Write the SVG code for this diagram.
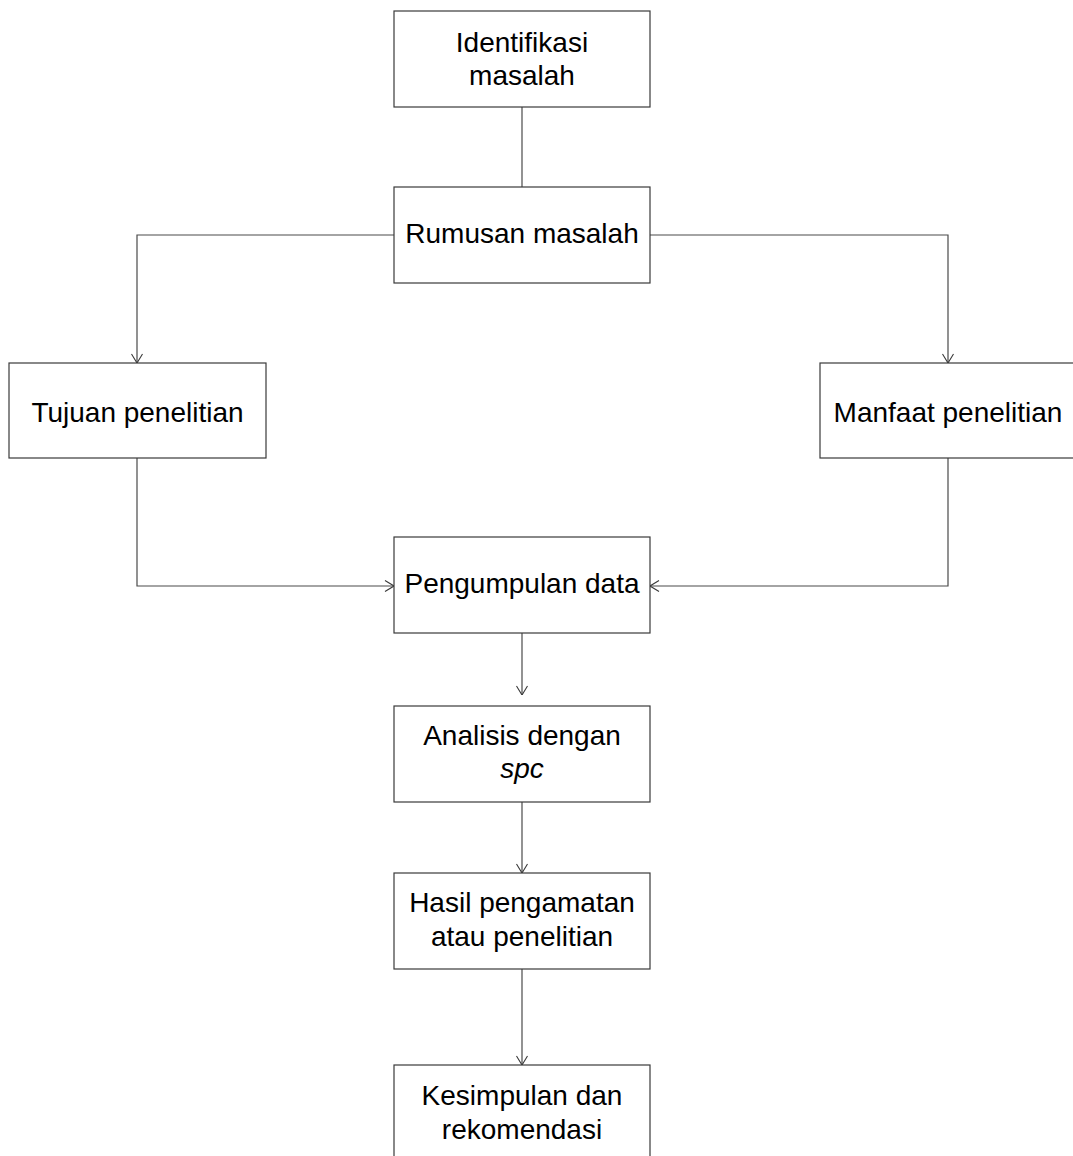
<svg xmlns="http://www.w3.org/2000/svg" width="1073" height="1156" viewBox="0 0 1073 1156">
<style>
.box{fill:#fff;stroke:#3a3a3a;stroke-width:1.2}
.lbl{font-family:"Liberation Sans",Arial,sans-serif;font-size:28px;fill:#000;text-anchor:middle}
.ln{fill:none;stroke:#4a4a4a;stroke-width:1.2}
</style>
<defs>
<marker id="arr" viewBox="0 0 10 12" refX="10" refY="6" markerWidth="10" markerHeight="12" markerUnits="userSpaceOnUse" orient="auto">
<path d="M1,0.5 L10,6 L1,11.5" fill="none" stroke="#3a3a3a" stroke-width="1.1"/>
</marker>
</defs>
<rect width="1073" height="1156" fill="#fff"/>
<g id="connectors">
<path class="ln" d="M522,107 V187"/>
<path class="ln" d="M394,235 H137 V363" marker-end="url(#arr)"/>
<path class="ln" d="M650,235 H948 V363" marker-end="url(#arr)"/>
<path class="ln" d="M137,458 V586 H394" marker-end="url(#arr)"/>
<path class="ln" d="M948,458 V586 H650" marker-end="url(#arr)"/>
<path class="ln" d="M522,633 V695" marker-end="url(#arr)"/>
<path class="ln" d="M522,802 V873" marker-end="url(#arr)"/>
<path class="ln" d="M522,969 V1065" marker-end="url(#arr)"/>
</g>
<g id="n-identifikasi">
<rect class="box" x="394" y="11" width="256" height="96"/>
<text class="lbl" x="522" y="52">Identifikasi</text>
<text class="lbl" x="522" y="85">masalah</text>
</g>
<g id="n-rumusan">
<rect class="box" x="394" y="187" width="256" height="96"/>
<text class="lbl" x="522" y="243">Rumusan masalah</text>
</g>
<g id="n-tujuan">
<rect class="box" x="9" y="363" width="257" height="95"/>
<text class="lbl" x="137.5" y="422">Tujuan penelitian</text>
</g>
<g id="n-manfaat">
<rect class="box" x="820" y="363" width="256" height="95"/>
<text class="lbl" x="948" y="422">Manfaat penelitian</text>
</g>
<g id="n-pengumpulan">
<rect class="box" x="394" y="537" width="256" height="96"/>
<text class="lbl" x="522" y="593">Pengumpulan data</text>
</g>
<g id="n-analisis">
<rect class="box" x="394" y="706" width="256" height="96"/>
<text class="lbl" x="522" y="745">Analisis dengan</text>
<text class="lbl" x="522" y="778" font-style="italic">spc</text>
</g>
<g id="n-hasil">
<rect class="box" x="394" y="873" width="256" height="96"/>
<text class="lbl" x="522" y="912">Hasil pengamatan</text>
<text class="lbl" x="522" y="946">atau penelitian</text>
</g>
<g id="n-kesimpulan">
<rect class="box" x="394" y="1065" width="256" height="96"/>
<text class="lbl" x="522" y="1105">Kesimpulan dan</text>
<text class="lbl" x="522" y="1139">rekomendasi</text>
</g>
</svg>
